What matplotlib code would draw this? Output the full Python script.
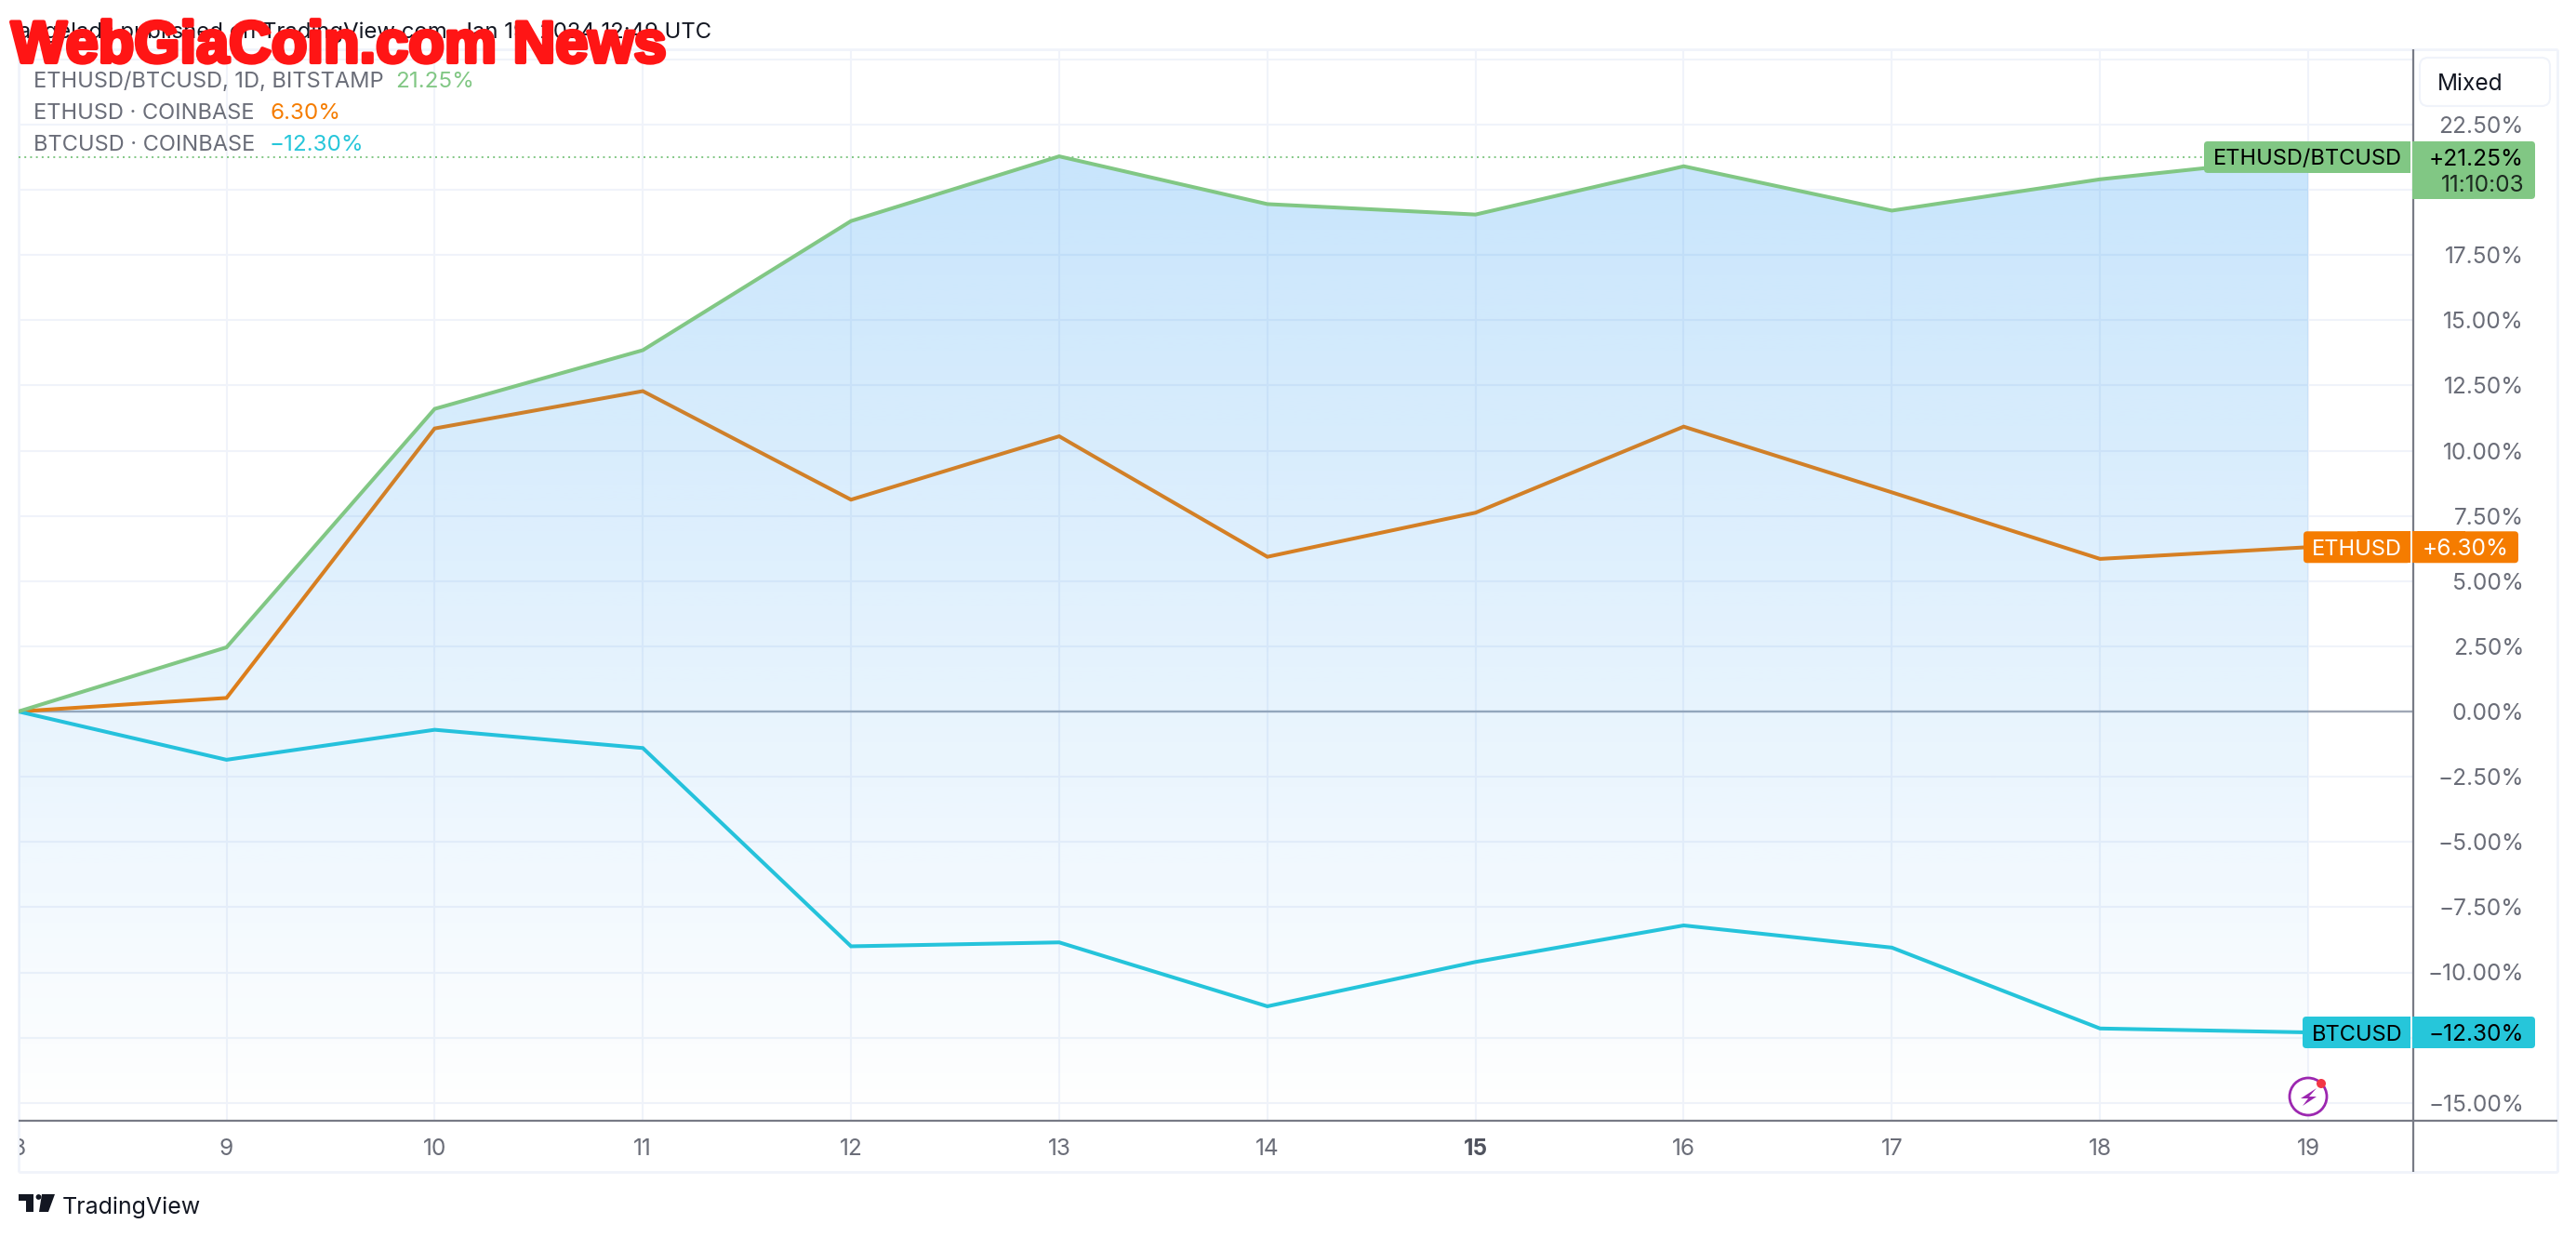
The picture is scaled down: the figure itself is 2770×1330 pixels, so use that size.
import numpy as np
import matplotlib
matplotlib.use("Agg")
import matplotlib.pyplot as plt
import matplotlib.patheffects as pe
from matplotlib.patches import FancyBboxPatch, Rectangle, Circle, Polygon

days = [8, 9, 10, 11, 12, 13, 14, 15, 16, 17, 18, 19]
ratio = [0, 2.46, 11.6, 13.85, 18.8, 21.28, 19.45, 19.05, 20.9, 19.2, 20.4, 21.25]
ethusd = [0, 0.52, 10.85, 12.28, 8.12, 10.55, 5.93, 7.62, 10.92, 8.4, 5.85, 6.30]
btcusd = [0, -1.85, -0.7, -1.4, -9.0, -8.85, -11.3, -9.6, -8.2, -9.05, -12.15, -12.30]
y_ticks = [22.5, 17.5, 15, 12.5, 10, 7.5, 5, 2.5, 0, -2.5, -5, -7.5, -10, -12.5, -15]
y_grid = [25, 22.5, 20, 17.5, 15, 12.5, 10, 7.5, 5, 2.5, -2.5, -5, -7.5, -10, -12.5, -15]

GREEN, ORANGE, CYAN = "#81c784", "#f57c00", "#26c6da"
GRID, AXIS, GREY, INK = "#f0f3fa", "#787b86", "#6a6d78", "#131722"
W, H = 2770, 1330
plt.rcParams["font.family"] = ["Inter", "DejaVu Sans"]
fig = plt.figure(figsize=(W / 100, H / 100), dpi=100, facecolor="white")

# chart pane: pixel box left 20, right 2595, top 53, bottom 1205
L, R, T, B = 20, 2595, 53, 1205
ax = fig.add_axes([L / W, 1 - B / H, (R - L) / W, (B - T) / H])
px_day, px_pct, y0 = 223.85, 28.05, 765
ax.set_xlim(8 + (L - 19.7) / px_day, 8 + (R - 19.7) / px_day)
ax.set_ylim((y0 - B) / px_pct, (y0 - T) / px_pct)
ax.axis("off")

# overlay in pixel coordinates for the chrome
ov = fig.add_axes([0, 0, 1, 1], zorder=5)
ov.set_xlim(0, W); ov.set_ylim(H, 0); ov.axis("off"); ov.patch.set_alpha(0)
under = fig.add_axes([0, 0, 1, 1], zorder=-1)
under.set_xlim(0, W); under.set_ylim(H, 0); under.axis("off")

for d in days:
    ax.axvline(d, color=GRID, lw=1.5, zorder=1)
for v in y_grid:
    ax.axhline(v, color=GRID, lw=1.5, zorder=1)
ax.axhline(0, color="#a0a8b6", lw=1.7, zorder=1.5)
LW = 2.9
ax.plot(days, ethusd, color=ORANGE, lw=LW, zorder=2, solid_joinstyle="miter")
ax.plot(days, btcusd, color=CYAN, lw=LW, zorder=2, solid_joinstyle="miter")

# gradient area under the main series
ymin, ymax = ax.get_ylim()
top = max(ratio)
grad = np.zeros((256, 2, 4))
grad[..., 0], grad[..., 1], grad[..., 2] = 0x21 / 255, 0x96 / 255, 0xf3 / 255
alpha = np.linspace(0.25, 0.0, 256)[:, None]
grad[..., 3] = alpha
im = ax.imshow(grad, extent=[days[0], days[-1], ymin, top], origin="upper",
               aspect="auto", zorder=3, interpolation="bilinear")
ax.set_xlim(8 + (L - 19.7) / px_day, 8 + (R - 19.7) / px_day)
ax.set_ylim(ymin, ymax)
poly = Polygon(list(zip(days, ratio)) + [(days[-1], ymin), (days[0], ymin)],
               closed=True, transform=ax.transData, fc="none", ec="none")
ax.add_patch(poly)
im.set_clip_path(poly)
ax.plot(days, ratio, color=GREEN, lw=LW, zorder=4, solid_joinstyle="miter")
ax.axhline(ratio[-1], color=GREEN, lw=1.4, ls=(0, (1, 2.2)), zorder=2)


def ypx(v):
    return y0 - v * px_pct


# frame
for x0, y00, x1, y1 in [(L, 53, 2750, 53), (2750, 53, 2750, 1260), (L, 1260, 2750, 1260), (L, 53, L, 1260)]:
    under.plot([x0, x1], [y00, y1], color=GRID, lw=2, solid_capstyle="butt")
ov.plot([R, R], [53, 1260], color=AXIS, lw=1.6, solid_capstyle="butt")
ov.plot([L, 2750], [B, B], color=AXIS, lw=1.6, solid_capstyle="butt")

# axis labels
FS = 17.6
for v in y_ticks:
    s = f"{abs(v):.2f}%"
    s = ("\u2212" + s) if v < 0 else s
    ov.text(2714, ypx(v), s, color=GREY, fontsize=FS, ha="right", va="center_baseline")
for d in days:
    x = 19.7 + (d - 8) * px_day
    t = ov.text(x, 1233, str(d), color=GREY if d != 15 else "#50535e", fontsize=FS,
                ha="center", va="center_baseline", fontweight="bold" if d == 15 else "normal")
    if d == 8:
        t.set_clip_path(Rectangle((L + 1, 1205), 100, 55, transform=ov.transData))
        t.set_clip_on(True)

# Mixed button
ov.add_patch(FancyBboxPatch((2602, 62), 140, 52, boxstyle="round,pad=0,rounding_size=9",
                            fc="white", ec=GRID, lw=1.5))
ov.text(2621, 88, "Mixed", color=INK, fontsize=17.6, va="center_baseline")


def rbox(x, y, w, h, color, side):
    ov.add_patch(FancyBboxPatch((x, y), w, h, boxstyle="round,pad=0,rounding_size=4",
                                fc=color, ec="none", zorder=6))
    if side == "left":
        ov.add_patch(Rectangle((x + w / 2, y), w / 2, h, fc=color, ec="none", zorder=6))
    else:
        ov.add_patch(Rectangle((x, y), w / 2, h, fc=color, ec="none", zorder=6))


def tag(name, val, color, left, right, tc, extra=None):
    yc = ypx(val)
    rbox(left, yc - 17, 2592 - left, 34, color, "left")
    rbox(2594, yc - 17, right - 2594, 62 if extra else 34, color, "right")
    ov.text(2583, yc, name, color=tc, fontsize=17.0, ha="right", va="center_baseline", zorder=7)
    s = f"{abs(val):.2f}%"
    s = ("\u2212" if val < 0 else "+") + s
    ov.text(2714 if right > 2710 else 2698, yc, s, color=tc, fontsize=FS, ha="right",
            va="center_baseline", zorder=7)
    if extra:
        ov.text(2714, yc + 28, extra, color="#1c2a20", fontsize=FS, ha="right",
                va="center_baseline", zorder=7)


tag("ETHUSD/BTCUSD", ratio[-1], GREEN, 2370, 2726, "black", "11:10:03")
tag("ETHUSD", ethusd[-1], ORANGE, 2477, 2708, "white")
tag("BTCUSD", btcusd[-1], CYAN, 2476, 2726, "black")

# legend
rows = [("ETHUSD/BTCUSD, 1D, BITSTAMP", "21.25%", GREEN, 86, 425),
        ("ETHUSD \u00b7 COINBASE", "6.30%", ORANGE, 119, 290),
        ("BTCUSD \u00b7 COINBASE", "\u221212.30%", CYAN, 153, 290)]
for name, val, col, y, vx in rows:
    ov.text(36, y, name, color=GREY, fontsize=17.0, va="center_baseline")
    ov.text(vx, y, val, color=col, fontsize=17.4, va="center_baseline")

# published line and watermark
ov.text(12, 32, "tangelads published on TradingView.com, Jan 19, 2024 12:49 UTC", color=INK,
        fontsize=17.2, va="center_baseline", zorder=6)
ov.text(12, 44, "WebGiaCoin.com News", color="#ff1515", fontsize=45.5,
        family=["Liberation Sans"], fontweight="bold",
        va="center_baseline", zorder=8,
        path_effects=[pe.withStroke(linewidth=3, foreground="#ff1515")])

# lightning icon
cx, cy = 2482, 1179
ov.add_patch(Circle((cx, cy), 20, fc="white", ec="#9c27b0", lw=2.0, zorder=6))
ov.add_patch(Polygon([(cx + 9, cy - 9), (cx - 8, cy + 2), (cx, cy + 2), (cx - 6, cy + 10),
                      (cx + 9, cy), (cx + 1, cy)], fc="#9c27b0", ec="none", zorder=7))
ov.add_patch(Circle((2496, 1165), 5, fc="#f23645", ec="none", zorder=7))

# TradingView logo
ov.add_patch(Polygon([(20, 1284), (36, 1284), (36, 1303), (27.5, 1303), (27.5, 1291), (20, 1291)],
                     fc=INK, ec="none"))
ov.add_patch(Circle((41.5, 1287), 2.9, fc=INK, ec="none"))
ov.add_patch(Polygon([(45, 1284), (59, 1284), (52, 1303), (42, 1303)], fc=INK, ec="none"))
ov.text(67, 1296, "TradingView", color=INK, fontsize=18.0, va="center_baseline")

fig.savefig("out.png", dpi=100)
